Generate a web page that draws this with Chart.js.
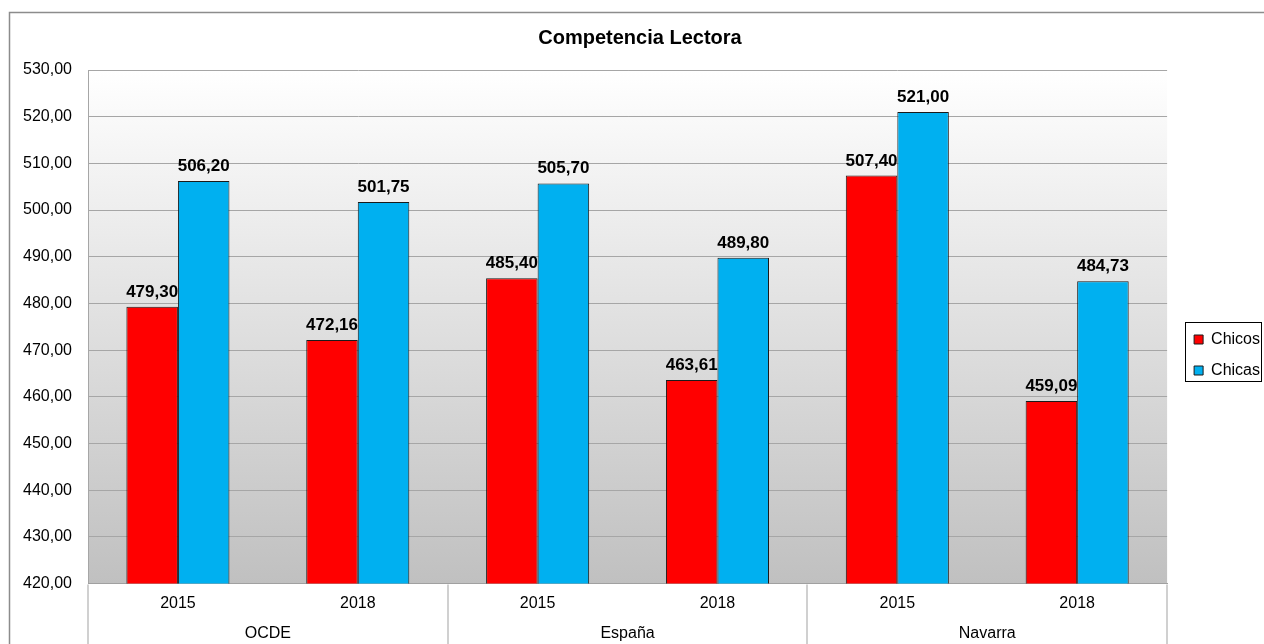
<!DOCTYPE html>
<html lang="es">
<head>
<meta charset="utf-8">
<title>Competencia Lectora</title>
<script src="https://cdn.jsdelivr.net/npm/chart.js@4.4.1/dist/chart.umd.min.js"></script>
<style>
  html, body { margin: 0; padding: 0; background: #fff; overflow: hidden; }
  #contenedor { position: relative; width: 1264px; height: 644px; }
</style>
</head>
<body>
<div id="contenedor"><canvas id="grafico"></canvas></div>
<script>
const anios = ["2015", "2018", "2015", "2018", "2015", "2018"];
const regiones = ["OCDE", "España", "Navarra"];
const chicos = [479.30, 472.16, 485.40, 463.61, 507.40, 459.09];
const chicas = [506.20, 501.75, 505.70, 489.80, 521.00, 484.73];
const ticksY = { min: 420, max: 530, paso: 10 };

const fuente = "'Liberation Sans', Arial, sans-serif";

function formatoComa(valor) {
  return Number(valor).toFixed(2).replace(".", ",");
}

// fondo degradado del área de trazado y marco exterior
const fondoPlugin = {
  id: "fondo",
  beforeDraw(chart) {
    const { ctx, chartArea } = chart;
    ctx.save();
    ctx.strokeStyle = "#8c8c8c";
    ctx.lineWidth = 1.5;
    ctx.strokeRect(9.5, 12.5, chart.width + 20, chart.height + 20);

    const grad = ctx.createLinearGradient(0, chartArea.top, 0, chartArea.bottom);
    grad.addColorStop(0, "#ffffff");
    grad.addColorStop(1, "#c0c0c0");
    ctx.fillStyle = grad;
    ctx.fillRect(chartArea.left, chartArea.top, chartArea.right - chartArea.left, chartArea.bottom - chartArea.top);
    ctx.restore();
  },
  afterLayout(chart) {
    // pequeños ajustes de posición de la leyenda y del título
    if (chart.legend) {
      chart.legend.left += 12;
      chart.legend.right += 12;
      chart.legend.top += 26;
      chart.legend.bottom += 26;
    }
    if (chart.titleBlock) {
      chart.titleBlock.left += 6;
      chart.titleBlock.right += 6;
    }
  }
};

const etiquetasPlugin = {
  id: "etiquetas",
  afterDatasetsDraw(chart) {
    const { ctx } = chart;
    ctx.save();
    ctx.font = "bold 17px " + fuente;
    ctx.fillStyle = "#000";
    ctx.textAlign = "center";
    ctx.textBaseline = "alphabetic";
    chart.data.datasets.forEach((ds, i) => {
      chart.getDatasetMeta(i).data.forEach((barra, j) => {
        ctx.fillText(formatoComa(ds.data[j]), barra.x, barra.y - 10);
      });
    });
    ctx.restore();
  }
};

const separadoresPlugin = {
  id: "separadores",
  afterDraw(chart) {
    const { ctx } = chart;
    const escalaGrupo = chart.scales.x2;
    const escalaX = chart.scales.x;
    ctx.save();
    ctx.strokeStyle = "#d0d0d0";
    ctx.lineWidth = 2;
    for (let i = 0; i <= regiones.length; i++) {
      const px = Math.round(escalaGrupo.getPixelForValue(i - 0.5));
      ctx.beginPath();
      ctx.moveTo(px, escalaX.top + 1);
      ctx.lineTo(px, chart.height);
      ctx.stroke();
    }

    // caja de la leyenda
    const ley = chart.legend;
    if (ley && ley.columnSizes && ley.columnSizes.length) {
      const pad = ley.options.labels.padding;
      const altoCol = ley.columnSizes[0].height;
      const y0 = (ley.top + pad + ley.bottom - altoCol) / 2;
      const x0 = ley.left + pad - 9;
      ctx.strokeStyle = "#000";
      ctx.lineWidth = 1;
      ctx.strokeRect(Math.round(x0) + 0.5, Math.round(y0 - 10) + 0.5, 76, 59);
    }
    ctx.restore();
  }
};

Chart.defaults.font.family = fuente;
Chart.defaults.color = "#000";

new Chart(document.getElementById("grafico"), {
  type: "bar",
  data: {
    labels: anios,
    datasets: [
      {
        label: "Chicos",
        data: chicos,
        backgroundColor: "#ff0000",
        borderColor: "#1a1a1a",
        borderWidth: 1,
        categoryPercentage: 0.573,
        barPercentage: 1
      },
      {
        label: "Chicas",
        data: chicas,
        backgroundColor: "#00b0f0",
        borderColor: "#1a1a1a",
        borderWidth: 1,
        categoryPercentage: 0.573,
        barPercentage: 1
      }
    ]
  },
  options: {
    responsive: true,
    maintainAspectRatio: false,
    animation: false,
    devicePixelRatio: 1,
    layout: {
      padding: { left: 10, right: 6, top: 14, bottom: 0 }
    },
    plugins: {
      title: {
        display: true,
        text: "Competencia Lectora",
        color: "#000",
        font: { size: 20, weight: "bold", family: fuente },
        padding: { top: 12, bottom: 20 }
      },
      legend: {
        display: true,
        position: "right",
        labels: {
          boxWidth: 9,
          boxHeight: 9,
          padding: 15,
          color: "#000",
          font: { size: 16, family: fuente }
        }
      },
      tooltip: { enabled: false }
    },
    scales: {
      y: {
        min: ticksY.min,
        max: ticksY.max,
        afterFit(escala) { escala.width = 78; },
        ticks: {
          stepSize: ticksY.paso,
          padding: 16,
          color: "#000",
          font: { size: 16 },
          callback: (v) => formatoComa(v)
        },
        grid: { color: "#a6a6a6", lineWidth: 1, drawTicks: false },
        border: { display: true, color: "#a6a6a6", width: 1 }
      },
      x: {
        weight: 0,
        ticks: { padding: 10, color: "#000", font: { size: 16 }, maxRotation: 0 },
        grid: { display: false, drawTicks: false },
        border: { display: true, color: "#a0a0a0", width: 1 }
      },
      x2: {
        type: "category",
        position: "bottom",
        weight: 1,
        labels: regiones,
        offset: true,
        ticks: { padding: 1, color: "#000", font: { size: 16 }, maxRotation: 0 },
        grid: { display: false, drawTicks: false },
        border: { display: false }
      }
    }
  },
  plugins: [fondoPlugin, etiquetasPlugin, separadoresPlugin]
});
</script>
</body>
</html>
